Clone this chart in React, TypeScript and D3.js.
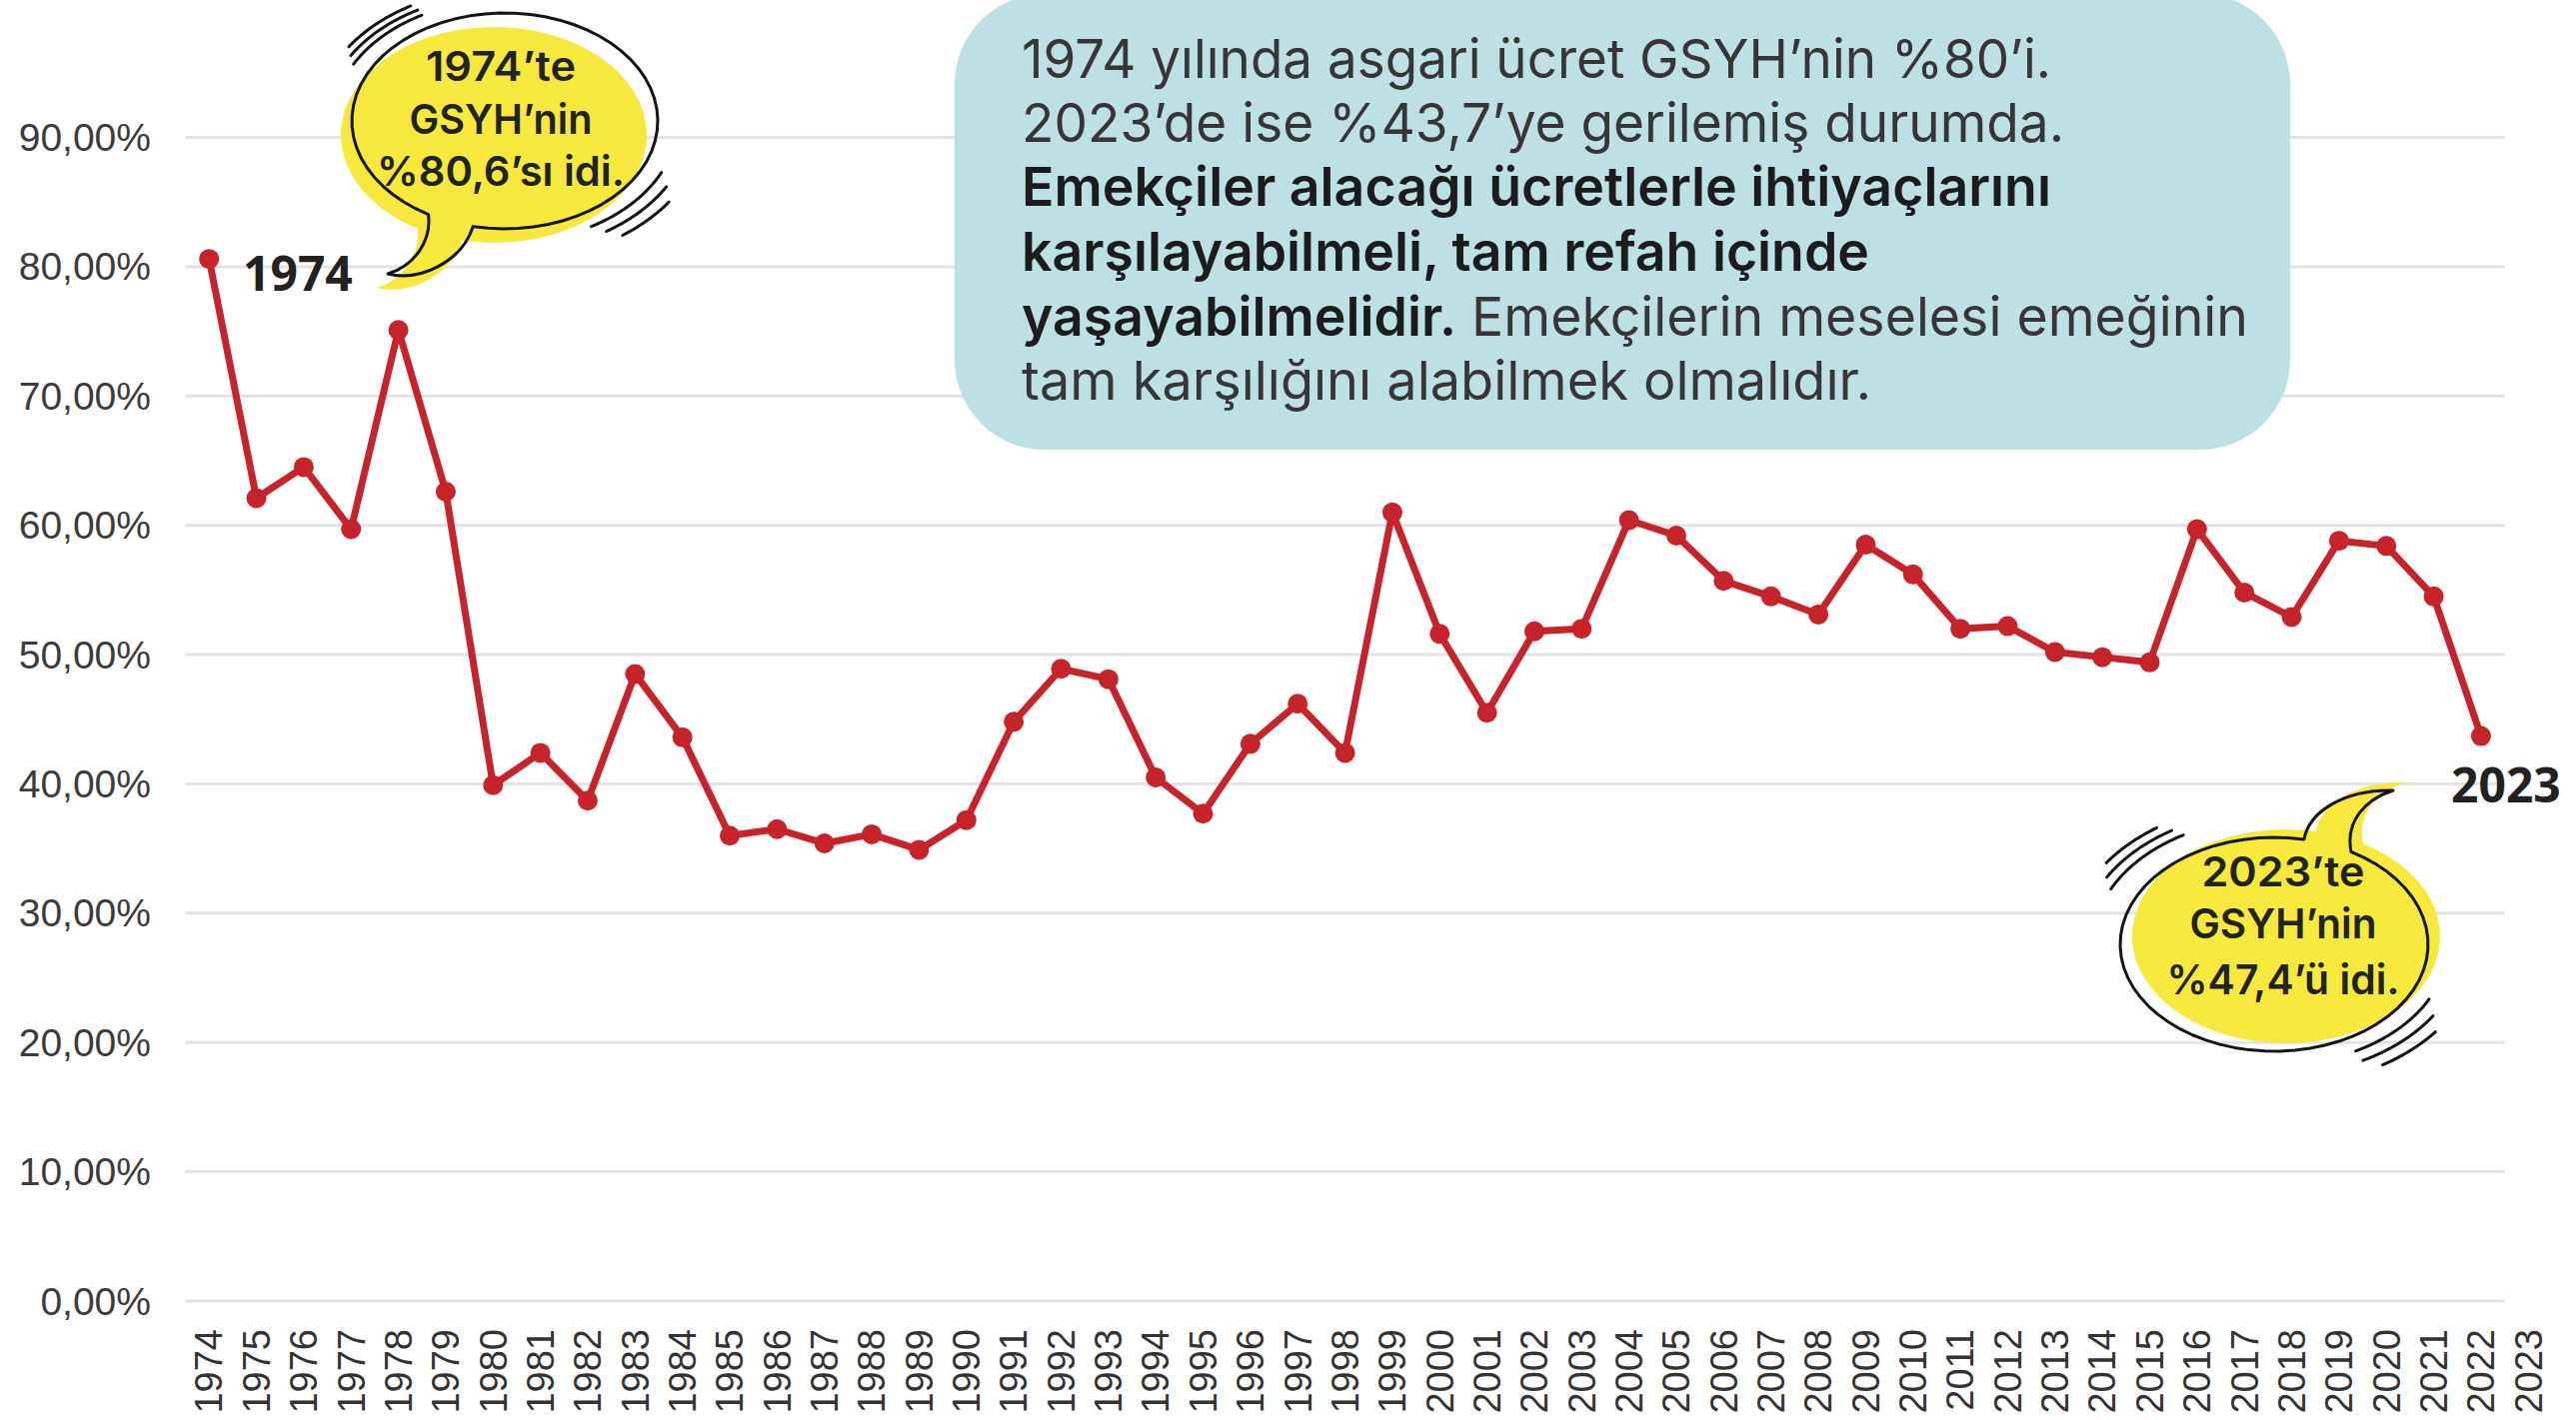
import { useRef, useEffect } from "react";
import * as d3 from "d3";

// x axis labels (one more label than data points, as in the original)
const years = [
  "1974", "1975", "1976", "1977", "1978", "1979", "1980", "1981", "1982", "1983",
  "1984", "1985", "1986", "1987", "1988", "1989", "1990", "1991", "1992", "1993",
  "1994", "1995", "1996", "1997", "1998", "1999", "2000", "2001", "2002", "2003",
  "2004", "2005", "2006", "2007", "2008", "2009", "2010", "2011", "2012", "2013",
  "2014", "2015", "2016", "2017", "2018", "2019", "2020", "2021", "2022", "2023",
];

// asgari ücret / GSYH (%)
const shareOfGdp = [
  80.6, 62.1, 64.5, 59.7, 75.1, 62.6, 39.9, 42.4, 38.7, 48.5,
  43.6, 36.0, 36.5, 35.4, 36.1, 34.9, 37.2, 44.8, 48.9, 48.1,
  40.5, 37.7, 43.1, 46.2, 42.4, 61.0, 51.6, 45.5, 51.8, 52.0,
  60.4, 59.2, 55.7, 54.5, 53.1, 58.5, 56.2, 52.0, 52.2, 50.2,
  49.8, 49.4, 59.7, 54.8, 52.9, 58.8, 58.4, 54.5, 43.7,
];

const yTicks = [0, 10, 20, 30, 40, 50, 60, 70, 80, 90];

const noteLines = [
  [{ t: "1974 yılında asgari ücret GSYH’nin %80’i.", b: false }],
  [{ t: "2023’de ise %43,7’ye gerilemiş durumda.", b: false }],
  [{ t: "Emekçiler alacağı ücretlerle ihtiyaçlarını", b: true }],
  [{ t: "karşılayabilmeli, tam refah içinde", b: true }],
  [{ t: "yaşayabilmelidir.", b: true }, { t: " Emekçilerin meselesi emeğinin", b: false }],
  [{ t: "tam karşılığını alabilmek olmalıdır.", b: false }],
];
const noteWidths = [1030, 1043, 1030, 848, 1227, 850];

const bubble1Lines = ["1974’te", "GSYH’nin", "%80,6’sı idi."];
const bubble1Widths = [150, 183, 248];
const bubble2Lines = ["2023’te", "GSYH’nin", "%47,4’ü idi."];
const bubble2Widths = [163, 187, 233];

const W = 2577;
const H = 1421;
const RED = "#c6242a";
const YELLOW = "#f6e83c";

function ellipsePts(c: any, s: number, a0: number, a1: number) {
  const n = 60;
  return d3.range(n + 1).map((i) => {
    const a = ((a0 + ((a1 - a0) * i) / n) * Math.PI) / 180;
    return [c.cx + s * c.rx * Math.cos(a), c.cy + s * c.ry * Math.sin(a)] as [number, number];
  });
}

export default function App() {
  const svgRef = useRef(null);

  function renderChart() {
    const svg = d3.select(svgRef.current);
    svg.selectAll("*").remove();
    svg.attr("width", W).attr("height", H);

    const x = d3
      .scaleBand()
      .domain(years)
      .range([185.5, 185.5 + 47.35 * years.length]);
    const bw = x.bandwidth();
    const cx = (d: string) => (x(d) as number) + bw / 2;
    const y = d3.scaleLinear().domain([0, 90]).range([1302, 137.5]);

    const points = shareOfGdp.map((v, i) => ({ year: years[i], v }));
    const plotRight = (x(years[shareOfGdp.length - 1]) as number) + bw;

    // grid
    svg
      .append("g")
      .selectAll("line")
      .data(yTicks)
      .join("line")
      .attr("x1", x.range()[0])
      .attr("x2", plotRight)
      .attr("y1", (d) => y(d))
      .attr("y2", (d) => y(d))
      .attr("stroke", "#e3e3e3")
      .attr("stroke-width", 3);

    // y labels
    svg
      .append("g")
      .selectAll("text")
      .data(yTicks)
      .join("text")
      .attr("x", 151)
      .attr("y", (d) => y(d))
      .attr("text-anchor", "end")
      .attr("dominant-baseline", "central")
      .attr("font-family", "'Liberation Sans', Arial, sans-serif")
      .attr("font-size", 39)
      .attr("fill", "#3c3c3c")
      .text((d) => `${d},00%`);

    // x labels
    svg
      .append("g")
      .selectAll("text")
      .data(years)
      .join("text")
      .attr("transform", (d) => `translate(${cx(d)},1330) rotate(-90)`)
      .attr("text-anchor", "end")
      .attr("dy", "0.35em")
      .attr("font-family", "'Liberation Sans', Arial, sans-serif")
      .attr("font-size", 38)
      .attr("fill", "#333")
      .text((d) => d);

    // note box
    svg
      .append("rect")
      .attr("x", 955)
      .attr("y", -6)
      .attr("width", 1336)
      .attr("height", 456)
      .attr("rx", 90)
      .attr("fill", "#bde0e3");

    const noteBaselines = [78, 142, 206, 271, 336, 400];
    noteLines.forEach((segs, i) => {
      const t = svg
        .append("text")
        .attr("x", 1022)
        .attr("y", noteBaselines[i])
        .attr("font-family", "Inter, 'Noto Sans', sans-serif")
        .attr("font-size", 54)
        .attr("textLength", noteWidths[i])
        .attr("lengthAdjust", "spacingAndGlyphs");
      segs.forEach((s) => {
        t.append("tspan")
          .attr("font-weight", s.b ? 600 : 400)
          .attr("fill", s.b ? "#1c1c1c" : "#363636")
          .text(s.t);
      });
    });

    // line + markers
    const line = d3
      .line<any>()
      .x((d) => cx(d.year))
      .y((d) => y(d.v));
    svg
      .append("path")
      .datum(points)
      .attr("d", line)
      .attr("fill", "none")
      .attr("stroke", RED)
      .attr("stroke-width", 7)
      .attr("stroke-linejoin", "round");
    svg
      .append("g")
      .selectAll("circle")
      .data(points)
      .join("circle")
      .attr("cx", (d) => cx(d.year))
      .attr("cy", (d) => y(d.v))
      .attr("r", 10)
      .attr("fill", RED);

    // year labels at the ends
    const endLabel = (txt: string, lx: number, ly: number) =>
      svg
        .append("text")
        .attr("x", lx)
        .attr("y", ly)
        .attr("font-family", "'Open Sans', sans-serif")
        .attr("font-weight", 700)
        .attr("font-size", 48)
        .attr("fill", "#222")
        .text(txt);
    endLabel("1974", 243, 291);
    endLabel("2023", 2452, 803);

    // speech bubbles
    const lineGen = d3.line();
    const drawBubble = (
      c: any,
      a0: number,
      a1: number,
      tail: string,
      shift: [number, number],
      arcs: number[][],
      lines: string[],
      widths: number[],
      tx: number,
      baselines: number[]
    ) => {
      const d = lineGen(ellipsePts(c, 1, a0, a1)) + tail;
      const g = svg.append("g");
      g.append("path")
        .attr("d", d)
        .attr("transform", `translate(${shift[0]},${shift[1]})`)
        .attr("fill", YELLOW);
      g.append("path")
        .attr("d", d)
        .attr("fill", "none")
        .attr("stroke", "#141414")
        .attr("stroke-width", 3)
        .attr("stroke-linejoin", "round");
      arcs.forEach(([s, b0, b1]) => {
        g.append("path")
          .attr("d", lineGen(ellipsePts(c, s, b0, b1)))
          .attr("fill", "none")
          .attr("stroke", "#141414")
          .attr("stroke-width", 3)
          .attr("stroke-linecap", "round");
      });
      lines.forEach((l, i) => {
        g.append("text")
          .attr("x", tx)
          .attr("y", baselines[i])
          .attr("text-anchor", "middle")
          .attr("font-family", "Inter, 'Noto Sans', sans-serif")
          .attr("font-weight", 600)
          .attr("font-size", 41)
          .attr("fill", "#222")
          .attr("textLength", widths[i])
          .attr("lengthAdjust", "spacingAndGlyphs")
          .text(l);
      });
    };

    drawBubble(
      { cx: 505, cy: 121, rx: 153, ry: 108 },
      102,
      -240,
      " C432,240 415,266 388,274 C420,282 462,262 473.2,226.6 Z",
      [-11, 14],
      [
        [1.12, -152, -119],
        [1.175, -149, -119],
        [1.23, -146, -120],
        [1.13, 25, 60],
        [1.22, 30, 57],
        [1.31, 35, 54],
      ],
      bubble1Lines,
      bubble1Widths,
      501,
      [81, 134, 186]
    );

    drawBubble(
      { cx: 2275, cy: 945, rx: 154, ry: 107 },
      -60,
      281.2,
      " C2310,812 2345,790 2394,791 C2366,800 2346,822 2352,852.3 Z",
      [12, -8],
      [
        [1.18, -154, -120],
        [1.255, -150, -122],
        [1.33, -145, -125],
        [1.13, 27, 62],
        [1.23, 33, 62],
        [1.33, 38, 58],
      ],
      bubble2Lines,
      bubble2Widths,
      2284,
      [887, 939, 995]
    );
  }

  useEffect(() => {
    renderChart();
  }, []);

  return (
    <div style={{ position: "absolute", left: 0, top: 0, background: "#fff" }}>
      <svg ref={svgRef} style={{ display: "block" }} />
    </div>
  );
}
